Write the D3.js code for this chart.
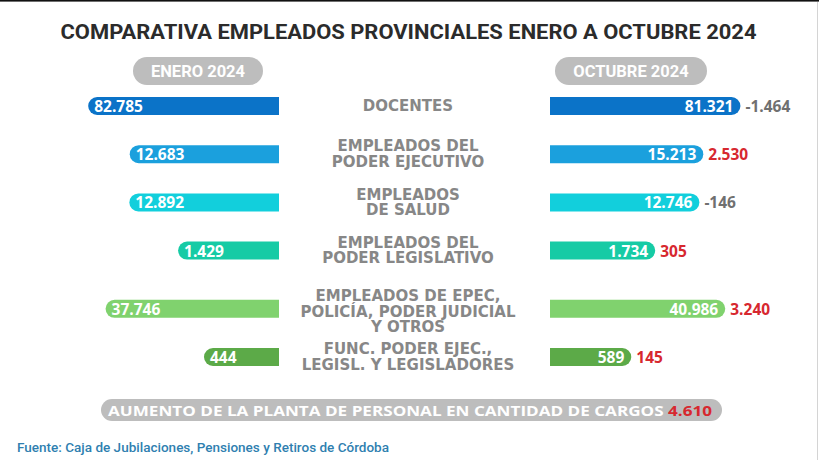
<!DOCTYPE html>
<html><head><meta charset="utf-8">
<script src="https://cdn.jsdelivr.net/npm/d3@7"></script>
<style>body{margin:0;background:#fff}svg{display:block}</style>
</head><body>
<script>
const titulo = "COMPARATIVA EMPLEADOS PROVINCIALES ENERO A OCTUBRE 2024";
const periodos = ["ENERO 2024", "OCTUBRE 2024"];
const categorias = [
  "DOCENTES",
  "EMPLEADOS DEL\nPODER EJECUTIVO",
  "EMPLEADOS\nDE SALUD",
  "EMPLEADOS DEL\nPODER LEGISLATIVO",
  "EMPLEADOS DE EPEC,\nPOLICÍA, PODER JUDICIAL\nY OTROS",
  "FUNC. PODER EJEC.,\nLEGISL. Y LEGISLADORES"
];
const enero2024 = [82785, 12683, 12892, 1429, 37746, 444];
const octubre2024 = [81321, 15213, 12746, 1734, 40986, 589];
const paleta = ["#0b73c8", "#1ba0dd", "#12cfdc", "#16cba5", "#80d26e", "#5caa48"];
const resumen = "AUMENTO DE LA PLANTA DE PERSONAL EN CANTIDAD DE CARGOS";
const fuente = "Fuente: Caja de Jubilaciones, Pensiones y Retiros de Córdoba";

const W = 819, H = 460;
const fmt = d3.formatLocale({decimal: ",", thousands: ".", grouping: [3], currency: ["$", ""], minus: "-"}).format(",d");
const diferencia = octubre2024.map((v, i) => v - enero2024[i]);
const total = d3.sum(diferencia);

const svg = d3.select("body").append("svg").attr("width", W).attr("height", H);
svg.append("rect").attr("width", W).attr("height", H).attr("fill", "#fff");
svg.append("rect").attr("width", W).attr("height", 1.6).attr("fill", "#111");
svg.append("line").attr("x1", 817.5).attr("x2", 817.5).attr("y1", 2).attr("y2", H).attr("stroke", "#d4d4d4");

// title
svg.append("text").attr("x", W / 2 - 1).attr("y", 32).attr("text-anchor", "middle")
  .attr("dominant-baseline", "central")
  .attr("font-family", "Roboto").attr("font-weight", 700).attr("font-size", 20)
  .attr("fill", "#2b2b2b").attr("textLength", 696).attr("lengthAdjust", "spacingAndGlyphs")
  .text(titulo);

// period pills
const pill = [{c: 198, w: 130}, {c: 631, w: 152}];
periodos.forEach((p, i) => {
  const g = svg.append("g");
  g.append("rect").attr("x", pill[i].c - pill[i].w / 2).attr("y", 57).attr("width", pill[i].w)
    .attr("height", 28).attr("rx", 14).attr("fill", "#bdbdbd");
  g.append("text").attr("x", pill[i].c).attr("y", 71.5).attr("text-anchor", "middle")
    .attr("dominant-baseline", "central").attr("font-family", "Roboto").attr("font-weight", 700)
    .attr("font-size", 16.5).attr("fill", "#fff").text(p);
});

// vertical layout based on number of lines of each category
const lines = categorias.map(c => c.split("\n").length);
const units = [0];
for (let i = 1; i < lines.length; i++) units.push(units[i - 1] + 2.8 + lines[i]);
const y = d3.scaleLinear().domain([0, units[units.length - 1]]).range([106, 357]);
const color = d3.scaleOrdinal(categorias, paleta);

const len = d3.scaleLog().domain([15, 100000]).range([0, 195]);
const leftEnd = 279, rightStart = 550, bh = 18, r = bh / 2;
const font = "'Open Sans', sans-serif";
const labelFont = "'DejaVu Sans', sans-serif";

categorias.forEach((cat, i) => {
  const cy = y(units[i]);
  // left bar
  const x0 = leftEnd - len(enero2024[i]);
  svg.append("path")
    .attr("d", `M${leftEnd},${cy - r}H${x0 + r}A${r},${r} 0 0 0 ${x0 + r},${cy + r}H${leftEnd}Z`)
    .attr("fill", color(cat));
  svg.append("text").attr("x", x0 + 6).attr("y", cy).attr("dominant-baseline", "central")
    .attr("font-family", font).attr("font-weight", 700).attr("font-size", 15.5)
    .attr("fill", "#fff").text(fmt(enero2024[i]));
  // right bar
  const x1 = rightStart + len(octubre2024[i]);
  svg.append("path")
    .attr("d", `M${rightStart},${cy - r}H${x1 - r}A${r},${r} 0 0 1 ${x1 - r},${cy + r}H${rightStart}Z`)
    .attr("fill", color(cat));
  svg.append("text").attr("x", x1 - 7).attr("y", cy).attr("text-anchor", "end").attr("dominant-baseline", "central")
    .attr("font-family", font).attr("font-weight", 700).attr("font-size", 15.5)
    .attr("fill", "#fff").text(fmt(octubre2024[i]));
  // difference
  svg.append("text").attr("x", x1 + 5).attr("y", cy).attr("dominant-baseline", "central")
    .attr("font-family", font).attr("font-weight", 700).attr("font-size", 15.5)
    .attr("fill", diferencia[i] < 0 ? "#707070" : "#d7282f").text(fmt(diferencia[i]));
  // category label
  const ls = cat.split("\n");
  const lh = 15.5;
  const t = svg.append("text").attr("text-anchor", "middle")
    .attr("font-family", labelFont).attr("font-weight", 700).attr("font-size", 15)
    .attr("fill", "#878787");
  ls.forEach((l, k) => {
    t.append("tspan").attr("x", 408).attr("y", cy + (k - (ls.length - 1) / 2) * lh + (ls.length === 3 ? 3 : 0))
      .attr("dominant-baseline", "central").text(l);
  });
});

// summary pill
svg.append("rect").attr("x", 101).attr("y", 399).attr("width", 621).attr("height", 22).attr("rx", 11)
  .attr("fill", "#bdbdbd");
const st = svg.append("text").attr("x", 108).attr("y", 410).attr("dominant-baseline", "central")
  .attr("font-family", font).attr("font-weight", 700).attr("font-size", 15)
  .attr("textLength", 604).attr("lengthAdjust", "spacingAndGlyphs");
st.append("tspan").attr("fill", "#fff").text(resumen + " ");
st.append("tspan").attr("fill", "#d7282f").text(fmt(total));

// source
svg.append("text").attr("x", 17).attr("y", 447).attr("dominant-baseline", "central")
  .attr("font-family", "Roboto").attr("font-weight", 500).attr("font-size", 12.5)
  .attr("fill", "#2f7fb0").attr("textLength", 372).attr("lengthAdjust", "spacingAndGlyphs")
  .text(fuente);
</script>
</body></html>
